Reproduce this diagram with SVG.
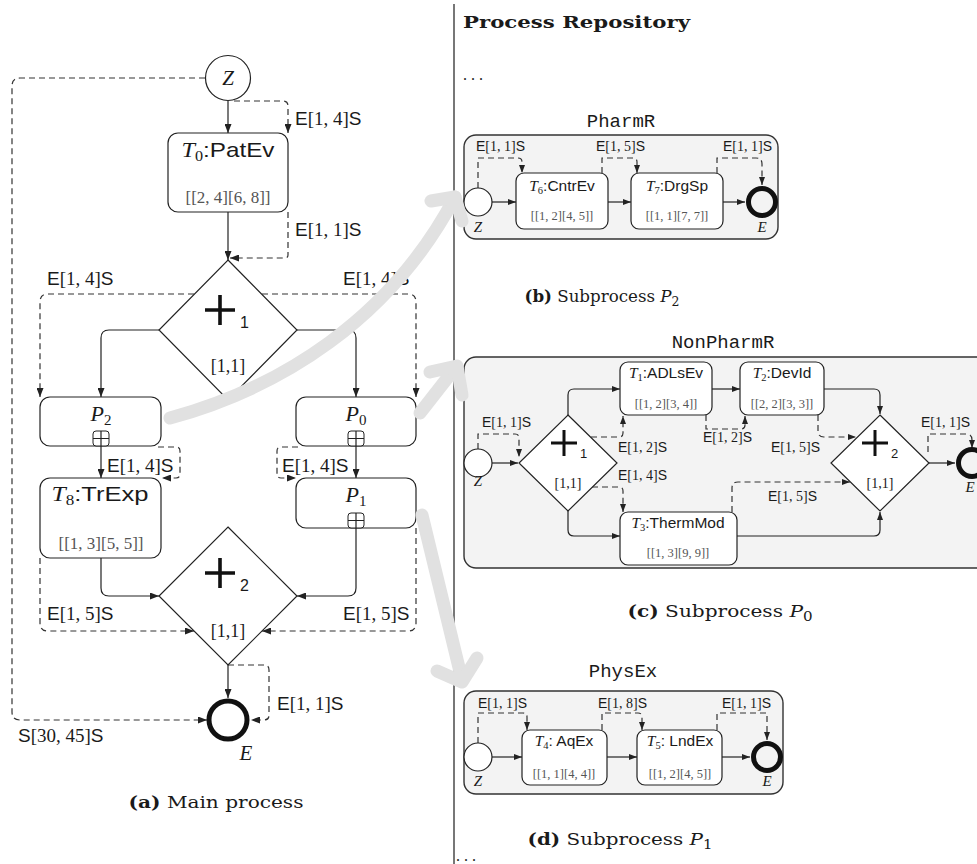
<svg xmlns="http://www.w3.org/2000/svg" width="977" height="864" viewBox="0 0 977 864">
<style>
text{font-family:"Liberation Serif","Times New Roman",serif;fill:#1a1a1a}
.sf{font-family:"Liberation Sans",Arial,sans-serif}
.it{font-style:italic}
.mono{font-family:"Liberation Mono","Courier New",monospace}
.cap{font-family:"DejaVu Serif","Liberation Serif",serif}
.ln{fill:none;stroke:#222;stroke-width:1.2}
.ds{fill:none;stroke:#333;stroke-width:1.2;stroke-dasharray:6 4}
.box{fill:#fff;stroke:#222;stroke-width:1.2}
.sub{fill:#f3f3f3;stroke:#333;stroke-width:1.4}
.gw{fill:#fff;stroke:#222;stroke-width:1.2}
.plus{fill:none;stroke:#111;stroke-width:3.6}
.plus2{fill:none;stroke:#111;stroke-width:3}
.ev{fill:#fff;stroke:#222;stroke-width:1.2}
.end{fill:none;stroke:#111;stroke-width:5}
.gray{fill:none;stroke:#e1e1e1;stroke-width:13;stroke-linecap:round;stroke-linejoin:round}
.lm{font-size:19px}
.ls{font-size:14px}
.iv{fill:#555}
.mk{fill:#fff;stroke:#222;stroke-width:1}
</style>
<defs>
<marker id="a" markerWidth="9" markerHeight="7" refX="9" refY="3.5" orient="auto" markerUnits="userSpaceOnUse"><path d="M0,0 L9,3.5 L0,7 z" fill="#222"/></marker>
<marker id="b" markerWidth="8" markerHeight="6" refX="8" refY="3" orient="auto" markerUnits="userSpaceOnUse"><path d="M0,0 L8,3 L0,6 z" fill="#222"/></marker>
</defs>

<!-- divider -->
<line x1="454" y1="4" x2="454" y2="864" stroke="#555" stroke-width="1.6"/>

<!-- ================= MAIN PROCESS ================= -->
<g id="main-connectors">
<path class="ln" d="M228,101 L228,133" marker-end="url(#a)"/>
<path class="ln" d="M228,212 L228,260" marker-end="url(#a)"/>
<path class="ln" d="M159,330 L109,330 Q101,330 101,338 L101,397" marker-end="url(#a)"/>
<path class="ln" d="M297,330 L348,330 Q356,330 356,338 L356,397" marker-end="url(#a)"/>
<path class="ln" d="M101,446 L101,478" marker-end="url(#a)"/>
<path class="ln" d="M356,446 L356,478" marker-end="url(#a)"/>
<path class="ln" d="M101,558 L101,588 Q101,596 109,596 L159,596" marker-end="url(#a)"/>
<path class="ln" d="M356,528 L356,588 Q356,596 348,596 L297,596" marker-end="url(#a)"/>
<path class="ln" d="M228,665 L228,698" marker-end="url(#a)"/>

<path class="ds" d="M205,78 L20,78 Q12,78 12,86 L12,712 Q12,720 20,720 L207,720" marker-end="url(#a)"/>
<path class="ds" d="M234,101 L283,101 Q288,101 288,106 L288,133" marker-end="url(#a)"/>
<path class="ds" d="M288,212 L288,255 Q288,258 285,258 L230,258" marker-end="url(#a)"/>
<path class="ds" d="M194,294 L48,294 Q40,294 40,302 L40,397" marker-end="url(#a)"/>
<path class="ds" d="M262,294 L408,294 Q416,294 416,302 L416,397" marker-end="url(#a)"/>
<path class="ds" d="M158,447 L176,447 Q180,447 180,451 L180,474 Q180,478 176,478 L162,478" marker-end="url(#a)"/>
<path class="ds" d="M298,447 L281,447 Q277,447 277,451 L277,474 Q277,478 281,478 L296,478" marker-end="url(#a)"/>
<path class="ds" d="M40,558 L40,623 Q40,631 48,631 L194,631" marker-end="url(#a)"/>
<path class="ds" d="M416,528 L416,623 Q416,631 408,631 L262,631" marker-end="url(#a)"/>
<path class="ds" d="M228,665 L264,665 Q269,665 269,670 L269,715 Q269,720 264,720 L251,720" marker-end="url(#a)"/>

<text class="lm" x="295" y="125"><tspan class="sf">E</tspan>[1, 4]<tspan class="sf">S</tspan></text>
<text class="lm" x="295" y="236"><tspan class="sf">E</tspan>[1, 1]<tspan class="sf">S</tspan></text>
<text class="lm" x="47" y="285"><tspan class="sf">E</tspan>[1, 4]<tspan class="sf">S</tspan></text>
<text class="lm" x="343" y="285"><tspan class="sf">E</tspan>[1, 4]<tspan class="sf">S</tspan></text>
<text class="lm" x="107" y="472"><tspan class="sf">E</tspan>[1, 4]<tspan class="sf">S</tspan></text>
<text class="lm" x="282" y="472"><tspan class="sf">E</tspan>[1, 4]<tspan class="sf">S</tspan></text>
<text class="lm" x="47" y="620"><tspan class="sf">E</tspan>[1, 5]<tspan class="sf">S</tspan></text>
<text class="lm" x="343" y="620"><tspan class="sf">E</tspan>[1, 5]<tspan class="sf">S</tspan></text>
<text class="lm" x="277" y="710"><tspan class="sf">E</tspan>[1, 1]<tspan class="sf">S</tspan></text>
<text class="lm" x="18" y="742"><tspan class="sf">S</tspan>[30, 45]<tspan class="sf">S</tspan></text>
</g>

<g id="main-Z">
<circle class="ev" cx="228" cy="78" r="22.5"/>
<text class="it" x="228" y="85" font-size="21" text-anchor="middle">Z</text>
</g>
<g id="main-T0">
<rect class="box" x="168" y="133" width="120" height="79" rx="10"/>
<text x="228" y="157" font-size="21" text-anchor="middle" textLength="93" lengthAdjust="spacingAndGlyphs"><tspan class="it">T</tspan><tspan font-size="14" dy="4">0</tspan><tspan class="sf" dy="-4">:PatEv</tspan></text>
<text class="iv" x="228" y="203" font-size="17" text-anchor="middle">[[2, 4][6, 8]]</text>
</g>
<g id="main-G1">
<polygon class="gw" points="228,260 297,330 228,400 159,330"/>
<path class="plus" d="M205,310 L235,310 M220,295 L220,325"/>
<text class="sf" x="240" y="328" font-size="16">1</text>
<text x="228" y="372" font-size="18" text-anchor="middle">[1,1]</text>
</g>
<g id="main-P2">
<rect class="box" x="40" y="397" width="121" height="49" rx="10"/>
<text x="101" y="421" font-size="22" text-anchor="middle"><tspan class="it">P</tspan><tspan font-size="15" dy="4">2</tspan></text>
<rect class="mk" x="93" y="431" width="16" height="15" rx="3"/>
<path class="ln" d="M101,431 L101,446 M93,438.5 L109,438.5"/>
</g>
<g id="main-P0">
<rect class="box" x="296" y="397" width="120" height="49" rx="10"/>
<text x="356" y="421" font-size="22" text-anchor="middle"><tspan class="it">P</tspan><tspan font-size="15" dy="4">0</tspan></text>
<rect class="mk" x="348" y="431" width="16" height="15" rx="3"/>
<path class="ln" d="M356,431 L356,446 M348,438.5 L364,438.5"/>
</g>
<g id="main-T8">
<rect class="box" x="40" y="478" width="121" height="80" rx="10"/>
<text x="100" y="501" font-size="21" text-anchor="middle" textLength="97" lengthAdjust="spacingAndGlyphs"><tspan class="it">T</tspan><tspan font-size="14" dy="4">8</tspan><tspan class="sf" dy="-4">:TrExp</tspan></text>
<text class="iv" x="101" y="549" font-size="17" text-anchor="middle">[[1, 3][5, 5]]</text>
</g>
<g id="main-P1">
<rect class="box" x="296" y="478" width="120" height="50" rx="10"/>
<text x="356" y="502" font-size="22" text-anchor="middle"><tspan class="it">P</tspan><tspan font-size="15" dy="4">1</tspan></text>
<rect class="mk" x="348" y="513" width="16" height="15" rx="3"/>
<path class="ln" d="M356,513 L356,528 M348,520.5 L364,520.5"/>
</g>
<g id="main-G2">
<polygon class="gw" points="228,527 297,596 228,665 159,596"/>
<path class="plus" d="M205,573 L235,573 M220,558 L220,588"/>
<text class="sf" x="240" y="591" font-size="16">2</text>
<text x="228" y="637" font-size="18" text-anchor="middle">[1,1]</text>
</g>
<g id="main-E">
<circle class="end" cx="228" cy="720" r="19"/>
<text class="it" x="246" y="760" font-size="21" text-anchor="middle">E</text>
</g>
<text class="cap" x="216" y="808" font-size="17" text-anchor="middle" textLength="175" lengthAdjust="spacingAndGlyphs"><tspan font-weight="bold">(a)</tspan> Main process</text>

<!-- ================= REPOSITORY ================= -->
<text class="cap" x="463" y="28" font-size="17" font-weight="bold" textLength="227" lengthAdjust="spacingAndGlyphs">Process Repository</text>
<text x="463" y="80" font-size="16">. . .</text>

<!-- PharmR -->
<text class="mono" x="621" y="127" font-size="19" text-anchor="middle">PharmR</text>
<g id="pharmR-box"><rect class="sub" x="464" y="135" width="314" height="104" rx="12"/></g>
<g id="pharmR-connectors">
<path class="ln" d="M492,202 L516,202" marker-end="url(#b)"/>
<path class="ln" d="M608,202 L631,202" marker-end="url(#b)"/>
<path class="ln" d="M723,202 L745,202" marker-end="url(#b)"/>
<path class="ds" d="M478,188 L478,158 L518,158 Q522,158 522,162 L522,173" marker-end="url(#b)"/>
<path class="ds" d="M602,173 L602,158 L633,158 Q637,158 637,162 L637,173" marker-end="url(#b)"/>
<path class="ds" d="M717,173 L717,158 L756,158 Q762,158 762,164 L762,185" marker-end="url(#b)"/>
<text class="ls" x="476" y="151"><tspan class="sf">E</tspan>[1, 1]<tspan class="sf">S</tspan></text>
<text class="ls" x="596" y="151"><tspan class="sf">E</tspan>[1, 5]<tspan class="sf">S</tspan></text>
<text class="ls" x="723" y="151"><tspan class="sf">E</tspan>[1, 1]<tspan class="sf">S</tspan></text>
</g>
<g id="pharmR-Z">
<circle class="ev" cx="478" cy="202" r="14"/>
<text class="it" x="478" y="232" font-size="15" text-anchor="middle">Z</text>
</g>
<g id="pharmR-T6">
<rect class="box" x="516" y="173" width="92" height="56" rx="8"/>
<text x="562" y="191" font-size="15.5" text-anchor="middle"><tspan class="it">T</tspan><tspan font-size="10.5" dy="3">6</tspan><tspan class="sf" dy="-3">:CntrEv</tspan></text>
<text class="iv" x="562" y="220" font-size="12.5" text-anchor="middle">[[1, 2][4, 5]]</text>
</g>
<g id="pharmR-T7">
<rect class="box" x="631" y="173" width="92" height="56" rx="8"/>
<text x="677" y="191" font-size="15.5" text-anchor="middle"><tspan class="it">T</tspan><tspan font-size="10.5" dy="3">7</tspan><tspan class="sf" dy="-3">:DrgSp</tspan></text>
<text class="iv" x="677" y="220" font-size="12.5" text-anchor="middle">[[1, 1][7, 7]]</text>
</g>
<g id="pharmR-E">
<circle class="end" cx="762" cy="202" r="13.5"/>
<text class="it" x="762" y="232" font-size="15" text-anchor="middle">E</text>
</g>
<text class="cap" x="602" y="302" font-size="16" text-anchor="middle" textLength="155" lengthAdjust="spacingAndGlyphs"><tspan font-weight="bold">(b)</tspan> Subprocess <tspan class="it">P</tspan><tspan font-size="12" dy="4">2</tspan></text>

<!-- NonPharmR -->
<text class="mono" x="723" y="348" font-size="19" text-anchor="middle">NonPharmR</text>
<g id="nonPharmR-box"><rect class="sub" x="464" y="357" width="540" height="211" rx="12"/></g>
<g id="nonPharmR-connectors">
<path class="ln" d="M492,463 L518,463" marker-end="url(#b)"/>
<path class="ln" d="M568,415 L568,395 Q568,389 574,389 L620,389" marker-end="url(#b)"/>
<path class="ln" d="M712,389 L740,389" marker-end="url(#b)"/>
<path class="ln" d="M824,389 L874,389 Q880,389 880,395 L880,414" marker-end="url(#b)"/>
<path class="ln" d="M568,511 L568,530 Q568,536 574,536 L620,536" marker-end="url(#b)"/>
<path class="ln" d="M737,536 L874,536 Q880,536 880,530 L880,512" marker-end="url(#b)"/>
<path class="ln" d="M929,463 L955,463" marker-end="url(#b)"/>
<path class="ds" d="M478,449 L478,434 L515,434 Q519,434 519,438 L519,457" marker-end="url(#b)"/>
<path class="ds" d="M591,437 L619,437 Q623,437 623,433 L623,416" marker-end="url(#b)"/>
<path class="ds" d="M592,487 L619,487 Q623,487 623,491 L623,512" marker-end="url(#b)"/>
<path class="ds" d="M706,415 L706,429 L741,429 Q745,429 745,425 L745,416" marker-end="url(#b)"/>
<path class="ds" d="M818,415 L818,431 Q818,437 824,437 L856,437" marker-end="url(#b)"/>
<path class="ds" d="M732,512 L732,488 Q732,482 738,482 L850,482" marker-end="url(#b)"/>
<path class="ds" d="M928,452 L928,434 L966,434 Q972,434 972,440 L972,448" marker-end="url(#b)"/>
<text class="ls" x="482" y="427"><tspan class="sf">E</tspan>[1, 1]<tspan class="sf">S</tspan></text>
<text class="ls" x="618" y="452"><tspan class="sf">E</tspan>[1, 2]<tspan class="sf">S</tspan></text>
<text class="ls" x="618" y="480"><tspan class="sf">E</tspan>[1, 4]<tspan class="sf">S</tspan></text>
<text class="ls" x="703" y="442"><tspan class="sf">E</tspan>[1, 2]<tspan class="sf">S</tspan></text>
<text class="ls" x="771" y="452"><tspan class="sf">E</tspan>[1, 5]<tspan class="sf">S</tspan></text>
<text class="ls" x="768" y="501"><tspan class="sf">E</tspan>[1, 5]<tspan class="sf">S</tspan></text>
<text class="ls" x="921" y="427"><tspan class="sf">E</tspan>[1, 1]<tspan class="sf">S</tspan></text>
</g>
<g id="nonPharmR-Z">
<circle class="ev" cx="478" cy="463" r="14"/>
<text class="it" x="478" y="486" font-size="15" text-anchor="middle">Z</text>
</g>
<g id="nonPharmR-G1">
<polygon class="gw" points="568,415 617,463 568,511 519,463"/>
<path class="plus2" d="M551,443 L577,443 M564,430 L564,456"/>
<text class="sf" x="580" y="458" font-size="13">1</text>
<text x="568" y="488" font-size="14" text-anchor="middle">[1,1]</text>
</g>
<g id="nonPharmR-T1">
<rect class="box" x="620" y="362" width="92" height="53" rx="8"/>
<text x="666" y="378" font-size="15.5" text-anchor="middle"><tspan class="it">T</tspan><tspan font-size="10.5" dy="3">1</tspan><tspan class="sf" dy="-3">:ADLsEv</tspan></text>
<text class="iv" x="666" y="408" font-size="12.5" text-anchor="middle">[[1, 2][3, 4]]</text>
</g>
<g id="nonPharmR-T2">
<rect class="box" x="740" y="362" width="84" height="53" rx="8"/>
<text x="782" y="378" font-size="15.5" text-anchor="middle"><tspan class="it">T</tspan><tspan font-size="10.5" dy="3">2</tspan><tspan class="sf" dy="-3">:DevId</tspan></text>
<text class="iv" x="782" y="408" font-size="12.5" text-anchor="middle">[[2, 2][3, 3]]</text>
</g>
<g id="nonPharmR-T3">
<rect class="box" x="620" y="512" width="117" height="53" rx="8"/>
<text x="678" y="528" font-size="15.5" text-anchor="middle"><tspan class="it">T</tspan><tspan font-size="10.5" dy="3">3</tspan><tspan class="sf" dy="-3">:ThermMod</tspan></text>
<text class="iv" x="678" y="557" font-size="12.5" text-anchor="middle">[[1, 3][9, 9]]</text>
</g>
<g id="nonPharmR-G2">
<polygon class="gw" points="880,415 929,463 880,511 831,463"/>
<path class="plus2" d="M862,443 L888,443 M875,430 L875,456"/>
<text class="sf" x="891" y="458" font-size="13">2</text>
<text x="880" y="488" font-size="14" text-anchor="middle">[1,1]</text>
</g>
<g id="nonPharmR-E">
<circle class="end" cx="972" cy="463" r="13.5"/>
<text class="it" x="970" y="492" font-size="15" text-anchor="middle">E</text>
</g>
<text class="cap" x="720" y="617" font-size="16" text-anchor="middle" textLength="185" lengthAdjust="spacingAndGlyphs"><tspan font-weight="bold">(c)</tspan> Subprocess <tspan class="it">P</tspan><tspan font-size="12" dy="4">0</tspan></text>

<!-- PhysEx -->
<text class="mono" x="623" y="677" font-size="19" text-anchor="middle">PhysEx</text>
<g id="physEx-box"><rect class="sub" x="464" y="691" width="319" height="103" rx="12"/></g>
<g id="physEx-connectors">
<path class="ln" d="M492,757 L522,757" marker-end="url(#b)"/>
<path class="ln" d="M607,757 L637,757" marker-end="url(#b)"/>
<path class="ln" d="M722,757 L750,757" marker-end="url(#b)"/>
<path class="ds" d="M478,743 L478,713 L523,713 Q527,713 527,717 L527,730" marker-end="url(#b)"/>
<path class="ds" d="M602,730 L602,713 L638,713 Q642,713 642,717 L642,730" marker-end="url(#b)"/>
<path class="ds" d="M717,730 L717,713 L767,713 L767,740" marker-end="url(#b)"/>
<text class="ls" x="478" y="708"><tspan class="sf">E</tspan>[1, 1]<tspan class="sf">S</tspan></text>
<text class="ls" x="598" y="708"><tspan class="sf">E</tspan>[1, 8]<tspan class="sf">S</tspan></text>
<text class="ls" x="722" y="708"><tspan class="sf">E</tspan>[1, 1]<tspan class="sf">S</tspan></text>
</g>
<g id="physEx-Z">
<circle class="ev" cx="478" cy="757" r="14"/>
<text class="it" x="478" y="786" font-size="15" text-anchor="middle">Z</text>
</g>
<g id="physEx-T4">
<rect class="box" x="522" y="730" width="85" height="55" rx="8"/>
<text x="564" y="746" font-size="15.5" text-anchor="middle"><tspan class="it">T</tspan><tspan font-size="10.5" dy="3">4</tspan><tspan class="sf" dy="-3">: AqEx</tspan></text>
<text class="iv" x="564" y="778" font-size="12.5" text-anchor="middle">[[1, 1][4, 4]]</text>
</g>
<g id="physEx-T5">
<rect class="box" x="637" y="730" width="85" height="55" rx="8"/>
<text x="680" y="746" font-size="15.5" text-anchor="middle"><tspan class="it">T</tspan><tspan font-size="10.5" dy="3">5</tspan><tspan class="sf" dy="-3">: LndEx</tspan></text>
<text class="iv" x="680" y="778" font-size="12.5" text-anchor="middle">[[1, 2][4, 5]]</text>
</g>
<g id="physEx-E">
<circle class="end" cx="767" cy="757" r="13.5"/>
<text class="it" x="767" y="786" font-size="15" text-anchor="middle">E</text>
</g>
<text class="cap" x="620" y="845" font-size="16" text-anchor="middle" textLength="185" lengthAdjust="spacingAndGlyphs"><tspan font-weight="bold">(d)</tspan> Subprocess <tspan class="it">P</tspan><tspan font-size="12" dy="4">1</tspan></text>
<text x="456" y="861" font-size="16">. . .</text>

<!-- mapping arrows -->
<g id="mapping-arrows">
<path class="gray" d="M170,418 C280,388 390,320 455,197"/>
<path class="gray" d="M431,201 L455,197 L462,221"/>
<path class="gray" d="M420,413 L456,367"/>
<path class="gray" d="M430,372 L457,366 L462,395"/>
<path class="gray" d="M422,515 L462,680"/>
<path class="gray" d="M437,671 L462,682 L477,658"/>
</g>
</svg>
